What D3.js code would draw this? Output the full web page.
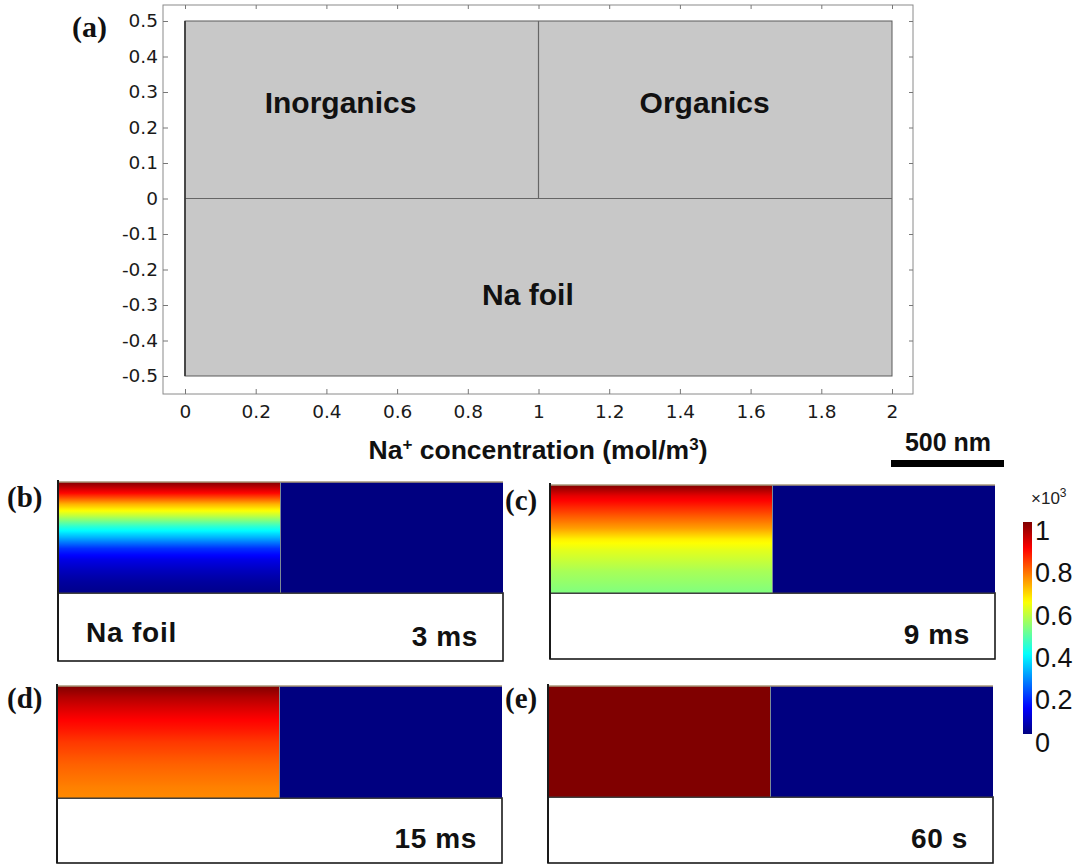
<!DOCTYPE html>
<html>
<head>
<meta charset="utf-8">
<script src="https://cdn.jsdelivr.net/npm/d3@7"></script>
<style>
  html, body { margin: 0; padding: 0; background: #ffffff; }
  svg { display: block; }
</style>
</head>
<body>
<svg id="chart" width="1088" height="865"></svg>
<script>
// ---------------- DATA ----------------
const xTicks = [0, 0.2, 0.4, 0.6, 0.8, 1, 1.2, 1.4, 1.6, 1.8, 2];
const yTicks = [-0.5, -0.4, -0.3, -0.2, -0.1, 0, 0.1, 0.2, 0.3, 0.4, 0.5];
const regionNames = ["Inorganics", "Organics", "Na foil"];
const axisTitleParts = ["Na", "+", " concentration (mol/m", "3", ")"];
const scaleBarLabel = "500 nm";
const panelLabels = ["(b)", "(c)", "(d)", "(e)"];
const timeLabels = ["3 ms", "9 ms", "15 ms", "60 s"];
// normalized depth from top of the inorganic layer (0 = top, 1 = bottom)
const depthFrac = [0, 0.1, 0.2, 0.3, 0.4, 0.5, 0.6, 0.7, 0.8, 0.9, 1.0];
// Na+ concentration (x10^3 mol/m^3) in inorganic layer vs depth
const conc3ms  = [1.0, 0.87, 0.70, 0.57, 0.42, 0.30, 0.17, 0.10, 0.06, 0.03, 0.01];
const conc9ms  = [1.0, 0.90, 0.84, 0.78, 0.72, 0.64, 0.60, 0.57, 0.54, 0.52, 0.50];
const conc15ms = [1.0, 0.95, 0.91, 0.875, 0.85, 0.82, 0.80, 0.78, 0.765, 0.75, 0.74];
const conc60s  = [1.0, 1.0, 1.0, 1.0, 1.0, 1.0, 1.0, 1.0, 1.0, 1.0, 1.0];
const inorganicSeries = [conc3ms, conc9ms, conc15ms, conc60s];
// organic layer concentration (uniform)
const organicConc = [0, 0, 0, 0];
const cbarTicks = [0, 0.2, 0.4, 0.6, 0.8, 1];
const cbarExponent = "3";

// ---------------- HELPERS ----------------
function jet(t) {
  const c = v => Math.max(0, Math.min(1, v));
  const r = c(1.5 - Math.abs(4 * t - 3));
  const g = c(1.5 - Math.abs(4 * t - 2));
  const b = c(1.5 - Math.abs(4 * t - 1));
  return d3.rgb(r * 255, g * 255, b * 255).formatHex();
}
const color = d3.scaleSequential(jet).domain([0, 1]);
const fmt = d => (Math.abs(d) < 1e-9 ? "0" : (Math.round(d * 10) / 10).toString());

const svg = d3.select("#chart");
const defs = svg.append("defs");

// ---------------- PANEL (a) ----------------
const frame = { left: 163, right: 913, top: 5, bottom: 394 };
const x = d3.scaleLinear().domain([0, 2]).range([185, 892]);
const y = d3.scaleLinear().domain([-0.5, 0.5]).range([376, 21]);

svg.append("rect")
  .attr("x", frame.left).attr("y", frame.top)
  .attr("width", frame.right - frame.left).attr("height", frame.bottom - frame.top)
  .attr("fill", "#ffffff").attr("stroke", "#8a8a8a").attr("stroke-width", 1);

svg.append("rect")
  .attr("x", x(0)).attr("y", y(0.5))
  .attr("width", x(2) - x(0)).attr("height", y(-0.5) - y(0.5))
  .attr("fill", "#c8c8c8").attr("stroke", "#5a5a5a").attr("stroke-width", 1);
svg.append("line")
  .attr("x1", x(0)).attr("x2", x(2)).attr("y1", y(0)).attr("y2", y(0))
  .attr("stroke", "#666").attr("stroke-width", 1.2);
svg.append("line")
  .attr("x1", x(1)).attr("x2", x(1)).attr("y1", y(0)).attr("y2", y(0.5))
  .attr("stroke", "#666").attr("stroke-width", 1.2);
svg.append("line")
  .attr("x1", x(0)).attr("x2", x(0)).attr("y1", y(0.5)).attr("y2", y(-0.5))
  .attr("stroke", "#333").attr("stroke-width", 1.6);

const tickFont = "'DejaVu Sans', sans-serif";
const gx = svg.append("g").attr("transform", `translate(0,${frame.bottom})`)
  .call(d3.axisBottom(x).tickValues(xTicks).tickFormat(fmt).tickSize(-5).tickPadding(11));
const gy = svg.append("g").attr("transform", `translate(${frame.left},0)`)
  .call(d3.axisLeft(y).tickValues(yTicks).tickFormat(fmt).tickSize(-5).tickPadding(5));
const gt = svg.append("g").attr("transform", `translate(0,${frame.top})`)
  .call(d3.axisTop(x).tickValues(xTicks).tickFormat("").tickSize(-4));
const gr = svg.append("g").attr("transform", `translate(${frame.right},0)`)
  .call(d3.axisRight(y).tickValues(yTicks).tickFormat("").tickSize(-4));
[gx, gy, gt, gr].forEach(g => {
  g.attr("font-family", tickFont).attr("font-size", 18.5);
  g.select(".domain").remove();
  g.selectAll(".tick line").attr("stroke", "#777");
  g.selectAll(".tick text").attr("fill", "#1a1a1a");
});

const labelFont = "'Liberation Sans', Arial, sans-serif";
const regionPos = [[0.44, 0.27], [1.47, 0.27], [0.97, -0.27]];
regionNames.forEach((name, i) => {
  svg.append("text")
    .attr("x", x(regionPos[i][0])).attr("y", y(regionPos[i][1]))
    .attr("dy", "0.36em").attr("text-anchor", "middle")
    .attr("font-family", labelFont).attr("font-weight", "bold")
    .attr("font-size", 30).attr("fill", "#111").text(name);
});

svg.append("text").attr("x", 72).attr("y", 37)
  .attr("font-family", "'Liberation Serif', 'Times New Roman', serif")
  .attr("font-weight", "bold").attr("font-size", 30).attr("fill", "#111").text("(a)");

const title = svg.append("text").attr("x", 538).attr("y", 459)
  .attr("text-anchor", "middle").attr("font-family", labelFont)
  .attr("font-weight", "bold").attr("font-size", 26.5).attr("fill", "#111");
title.append("tspan").text(axisTitleParts[0]);
title.append("tspan").attr("dy", -9).attr("font-size", 17).text(axisTitleParts[1]);
title.append("tspan").attr("dy", 9).text(axisTitleParts[2]);
title.append("tspan").attr("dy", -9).attr("font-size", 17).text(axisTitleParts[3]);
title.append("tspan").attr("dy", 9).text(axisTitleParts[4]);

svg.append("text").attr("x", 948).attr("y", 451).attr("text-anchor", "middle")
  .attr("font-family", labelFont).attr("font-weight", "bold")
  .attr("font-size", 25).attr("fill", "#111").text(scaleBarLabel);
svg.append("rect").attr("x", 891).attr("y", 460).attr("width", 113).attr("height", 7).attr("fill", "#000");

// ---------------- PANELS (b)-(e) ----------------
const panelW = 445;
const layout = [
  { x: 58,  yT: 482, yM: 593, yB: 661, lx: 7,   ly: 507 },
  { x: 550, yT: 485, yM: 593, yB: 659, lx: 505, ly: 510 },
  { x: 57,  yT: 686, yM: 798, yB: 863, lx: 7,   ly: 708 },
  { x: 548, yT: 686, yM: 797, yB: 863, lx: 505, ly: 708 }
];
const stopFracs = d3.range(0, 1.0001, 0.02);

layout.forEach((L, i) => {
  const px = d3.scaleLinear().domain([0, 2]).range([L.x, L.x + panelW]);
  const valueAtDepth = d3.scaleLinear().domain(depthFrac).range(inorganicSeries[i]);

  const gid = "grad" + i;
  const grad = defs.append("linearGradient").attr("id", gid)
    .attr("x1", 0).attr("y1", 0).attr("x2", 0).attr("y2", 1);
  stopFracs.forEach(f => {
    grad.append("stop").attr("offset", f).attr("stop-color", color(valueAtDepth(f)));
  });

  const g = svg.append("g");
  g.append("rect").attr("x", px(0)).attr("y", L.yM)
    .attr("width", px(2) - px(0)).attr("height", L.yB - L.yM)
    .attr("fill", "#fff").attr("stroke", "#1a1a1a").attr("stroke-width", 1.6);
  g.append("rect").attr("x", px(0)).attr("y", L.yT)
    .attr("width", px(1) - px(0)).attr("height", L.yM - L.yT)
    .attr("fill", `url(#${gid})`);
  g.append("rect").attr("x", px(1)).attr("y", L.yT)
    .attr("width", px(2) - px(1)).attr("height", L.yM - L.yT)
    .attr("fill", color(organicConc[i]));
  g.append("line").attr("x1", px(0)).attr("x2", px(2)).attr("y1", L.yT).attr("y2", L.yT)
    .attr("stroke", "#a8987a").attr("stroke-width", 1.5);
  g.append("line").attr("x1", px(1)).attr("x2", px(1)).attr("y1", L.yT).attr("y2", L.yM)
    .attr("stroke", "#7d8a96").attr("stroke-width", 1);
  g.append("line").attr("x1", px(0)).attr("x2", px(2)).attr("y1", L.yM).attr("y2", L.yM)
    .attr("stroke", "#3a3a3a").attr("stroke-width", 1.2);
  g.append("line").attr("x1", px(0)).attr("x2", px(0)).attr("y1", L.yT - 2).attr("y2", L.yB)
    .attr("stroke", "#1a1a1a").attr("stroke-width", 2);

  svg.append("text").attr("x", L.lx).attr("y", L.ly)
    .attr("font-family", "'Liberation Serif', 'Times New Roman', serif")
    .attr("font-weight", "bold").attr("font-size", 29).attr("fill", "#111").text(panelLabels[i]);
  svg.append("text").attr("x", L.x + 420).attr("y", L.yB - 15).attr("text-anchor", "end")
    .attr("font-family", labelFont).attr("font-weight", "bold")
    .attr("font-size", 28).attr("letter-spacing", 0.6).attr("fill", "#111").text(timeLabels[i]);
  if (i === 0) {
    svg.append("text").attr("x", L.x + 28).attr("y", L.yB - 19)
      .attr("font-family", labelFont).attr("font-weight", "bold")
      .attr("font-size", 28).attr("letter-spacing", 0.8).attr("fill", "#111").text(regionNames[2]);
  }
});

// ---------------- COLORBAR ----------------
const cb = { x: 1023, w: 9 };
const cy = d3.scaleLinear().domain([0, 1]).range([734, 522]);
const cgrad = defs.append("linearGradient").attr("id", "cbar")
  .attr("x1", 0).attr("y1", 1).attr("x2", 0).attr("y2", 0);
stopFracs.forEach(f => cgrad.append("stop").attr("offset", f).attr("stop-color", color(f)));
svg.append("rect").attr("x", cb.x).attr("y", cy(1)).attr("width", cb.w)
  .attr("height", cy(0) - cy(1)).attr("fill", "url(#cbar)");
cbarTicks.forEach(t => {
  svg.append("text").attr("x", 1035).attr("y", cy(t) + 8).attr("dy", "0.36em")
    .attr("font-family", labelFont).attr("font-size", 27).attr("fill", "#111").text(fmt(t));
});
const ex = svg.append("text").attr("x", 1031).attr("y", 504)
  .attr("font-family", labelFont).attr("font-size", 17).attr("fill", "#222");
ex.append("tspan").text("×10");
ex.append("tspan").attr("dy", -7).attr("font-size", 12).text(cbarExponent);
</script>
</body>
</html>
